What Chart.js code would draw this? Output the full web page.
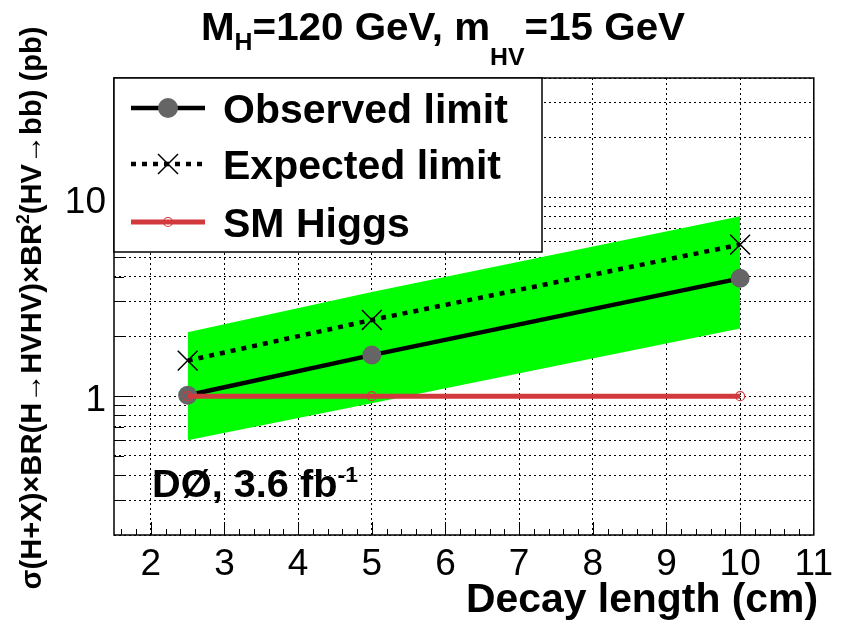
<!DOCTYPE html>
<html>
<head>
<meta charset="utf-8">
<script src="https://cdn.jsdelivr.net/npm/chart.js@4.4.0/dist/chart.umd.min.js"></script>
<style>
  html, body { margin: 0; padding: 0; background: #fff; }
  #wrap { width: 841px; height: 626px; }
</style>
</head>
<body>
<div id="wrap"><canvas id="grafica" width="841" height="626"></canvas></div>
<script>
// ==============================
// Datos
// ==============================
const decayLength = [2.5, 5, 10];          // cm
const observedLimit = [1.01, 1.61, 3.92];  // pb
const expectedLimit = [1.51, 2.42, 5.80];
const bandUpper = [2.10, 3.35, 8.05];
const bandLower = [0.60, 0.92, 2.19];
const smHiggs = [1.0, 1.0, 1.0];

const xTicks = [2, 3, 4, 5, 6, 7, 8, 9, 10, 11];
const yTicks = [0.2, 0.3, 0.4, 0.5, 0.6, 0.7, 0.8, 0.9,
                1, 2, 3, 4, 5, 6, 7, 8, 9, 10, 20, 30, 40];
const yLabels = { 1: "1", 10: "10" };

const FONT = '"Liberation Sans", Arial, Helvetica, sans-serif';
const RED = "#d2393c";

const pts = ys => decayLength.map((x, i) => ({ x, y: ys[i] }));

// ==============================
// Texto con sub/superindices
// ==============================
function drawRich(ctx, parts, x, y, align, width, rot) {
  let total = 0;
  parts.forEach(p => {
    ctx.font = `bold ${p[1]}px ${FONT}`;
    p.w = ctx.measureText(p[0]).width;
    total += p.w;
  });
  const sx = width ? width / total : 1;
  ctx.save();
  ctx.translate(x, y);
  if (rot) ctx.rotate(rot);
  ctx.scale(sx, 1);
  let cx = align === "center" ? -total / 2 : align === "right" ? -total : 0;
  ctx.fillStyle = "#000";
  ctx.textAlign = "left";
  ctx.textBaseline = "alphabetic";
  parts.forEach(p => {
    ctx.font = `bold ${p[1]}px ${FONT}`;
    ctx.fillText(p[0], cx, p[2]);
    cx += p.w;
  });
  ctx.restore();
}

// ==============================
// Marco, ticks, leyenda y textos
// ==============================
const decor = {
  id: "decor",
  afterDraw(chart) {
    const { ctx, chartArea: a, scales } = chart;
    const xs = scales.x, ys = scales.y;

    ctx.save();
    ctx.strokeStyle = "#000";
    ctx.lineWidth = 1;
    ctx.setLineDash([]);

    // ticks hacia dentro, eje x
    ctx.beginPath();
    for (let v = 1.6; v < 11 - 1e-6; v += 0.2) {
      const px = Math.round(xs.getPixelForValue(v)) + 0.5;
      const major = Math.abs(v - Math.round(v)) < 1e-6;
      ctx.moveTo(px, a.bottom);
      ctx.lineTo(px, a.bottom - (major ? 13 : 6));
    }
    // ticks hacia dentro, eje y
    yTicks.slice(1, -1).forEach(v => {
      const py = Math.round(ys.getPixelForValue(v)) + 0.5;
      ctx.moveTo(a.left, py);
      ctx.lineTo(a.left + (yLabels[v] ? 19 : 10), py);
    });
    ctx.stroke();

    // marco
    ctx.lineWidth = 1.5;
    ctx.strokeRect(a.left, a.top, a.right - a.left, a.bottom - a.top);

    // leyenda
    const L = { x: a.left, y: a.top, w: 428, h: 174 };
    ctx.fillStyle = "#fff";
    ctx.fillRect(L.x, L.y, L.w, L.h);
    ctx.strokeRect(L.x, L.y, L.w, L.h);

    const x0 = 131, x1 = 205, xm = 168;
    const rows = [108, 164, 222];

    // Observed limit
    ctx.lineWidth = 4.5;
    ctx.beginPath(); ctx.moveTo(x0, rows[0]); ctx.lineTo(x1, rows[0]); ctx.stroke();
    ctx.fillStyle = "#656565";
    ctx.beginPath(); ctx.arc(xm, rows[0], 10, 0, Math.PI * 2); ctx.fill();

    // Expected limit
    ctx.setLineDash([5, 6]);
    ctx.lineWidth = 4.5;
    ctx.beginPath(); ctx.moveTo(x0, rows[1]); ctx.lineTo(x1, rows[1]); ctx.stroke();
    ctx.setLineDash([]);
    ctx.lineWidth = 1.5;
    ctx.beginPath();
    ctx.moveTo(xm - 10, rows[1] - 10); ctx.lineTo(xm + 10, rows[1] + 10);
    ctx.moveTo(xm - 10, rows[1] + 10); ctx.lineTo(xm + 10, rows[1] - 10);
    ctx.stroke();

    // SM Higgs
    ctx.strokeStyle = RED;
    ctx.lineWidth = 5;
    ctx.beginPath(); ctx.moveTo(x0, rows[2]); ctx.lineTo(x1, rows[2]); ctx.stroke();
    ctx.lineWidth = 1.2;
    ctx.beginPath(); ctx.arc(xm, rows[2], 4.5, 0, Math.PI * 2); ctx.stroke();

    ctx.fillStyle = "#000";
    ctx.font = `bold 41px ${FONT}`;
    ctx.textBaseline = "alphabetic";
    ["Observed limit", "Expected limit", "SM Higgs"].forEach((t, i) => {
      ctx.fillText(t, 223, rows[i] + 15);
    });
    ctx.restore();

    // DØ, luminosidad
    drawRich(ctx, [["DØ, 3.6 fb", 38, 0], ["-1", 22, -15]], 152, 497, "left", 206);

    // titulo
    drawRich(ctx, [["M", 39, 0], ["H", 24, 10], ["=120 GeV, m", 39, 0],
                   ["HV", 24, 25], ["=15 GeV", 39, 0]], 443, 40, "center", 484);

    // titulo eje x
    drawRich(ctx, [["Decay length (cm)", 41, 0]], 818, 612, "right", 352);

    // titulo eje y
    drawRich(ctx, [["σ(H+X)×BR(H→HVHV)×BR", 30, 0], ["2", 18, -12],
                   ["(HV→bb) (pb)", 30, 0]], 41, 308, "center", 563, -Math.PI / 2);
  }
};

// ==============================
// Grafica
// ==============================
const ctx = document.getElementById("grafica").getContext("2d");
const grafica = new Chart(ctx, {
  type: "line",
  data: {
    datasets: [
      {
        label: "SM Higgs",
        data: pts(smHiggs),
        borderColor: RED,
        borderWidth: 5,
        pointStyle: "circle",
        pointRadius: 4.5,
        pointBorderWidth: 1.2,
        pointBorderColor: RED,
        pointBackgroundColor: "rgba(0,0,0,0)",
        order: 0
      },
      {
        label: "Expected limit",
        data: pts(expectedLimit),
        borderColor: "#000",
        borderWidth: 4.5,
        borderDash: [5, 6],
        pointStyle: "crossRot",
        pointRadius: 14,
        pointBorderWidth: 1.5,
        pointBorderColor: "#000",
        order: 1
      },
      {
        label: "Observed limit",
        data: pts(observedLimit),
        borderColor: "#000",
        borderWidth: 4.5,
        pointRadius: 9.5,
        pointBorderWidth: 0,
        pointBackgroundColor: "#656565",
        order: 2
      },
      {
        label: "band up",
        data: pts(bandUpper),
        borderColor: "rgba(0,0,0,0)",
        borderWidth: 0,
        pointRadius: 0,
        backgroundColor: "#00ff00",
        fill: "+1",
        order: 3
      },
      {
        label: "band down",
        data: pts(bandLower),
        borderColor: "rgba(0,0,0,0)",
        borderWidth: 0,
        pointRadius: 0,
        fill: false,
        order: 4
      }
    ]
  },
  options: {
    responsive: false,
    devicePixelRatio: 1,
    animation: false,
    layout: { padding: { top: 78, right: 22, left: 0, bottom: 0 } },
    plugins: { legend: { display: false }, tooltip: { enabled: false } },
    elements: { line: { tension: 0 } },
    scales: {
      x: {
        type: "linear",
        min: 1.5,
        max: 11,
        afterBuildTicks: s => { s.ticks = xTicks.map(v => ({ value: v })); },
        afterFit: s => { s.height = 91; },
        ticks: {
          autoSkip: false,
          maxRotation: 0,
          padding: 8,
          color: "#000",
          font: { family: FONT, size: 37 },
          callback: v => String(v)
        },
        // rejilla punteada (en v4 el trazo va en border.dash)
        grid: { color: "#000", lineWidth: 1, drawTicks: false },
        border: { display: false, dash: [2, 3] }
      },
      y: {
        type: "logarithmic",
        min: 0.2,
        max: 40,
        afterBuildTicks: s => { s.ticks = yTicks.map(v => ({ value: v })); },
        afterFit: s => { s.width = 114; },
        ticks: {
          autoSkip: false,
          padding: 8,
          labelOffset: 5,
          color: "#000",
          font: { family: FONT, size: 37 },
          callback: v => yLabels[v] || ""
        },
        grid: { color: "#000", lineWidth: 1, drawTicks: false },
        border: { display: false, dash: [2, 3] }
      }
    }
  },
  plugins: [decor]
});
</script>
</body>
</html>
